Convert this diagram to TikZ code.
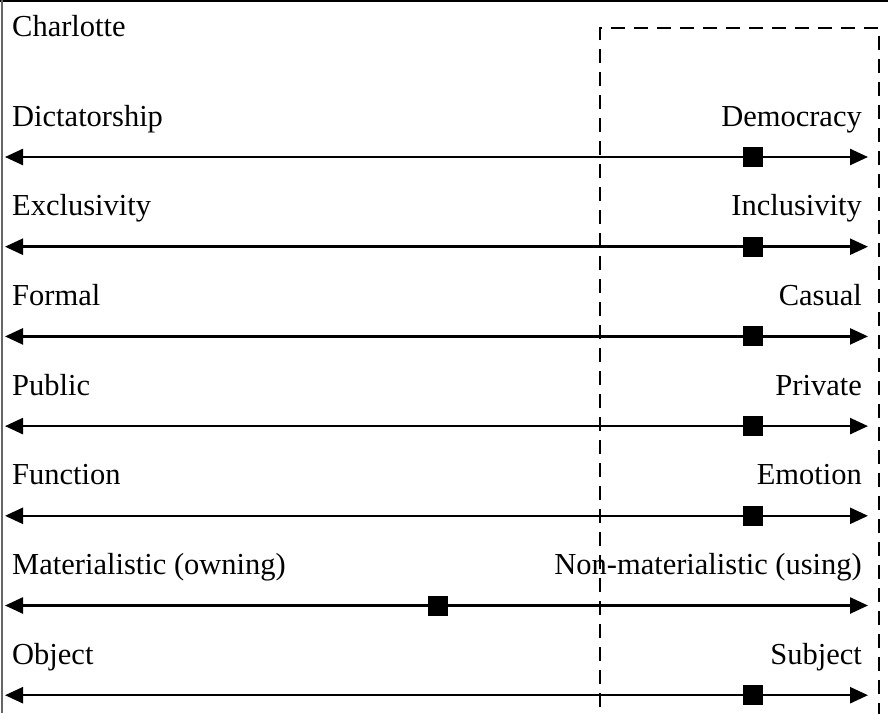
\documentclass[tikz,border=0pt]{standalone}
\usepackage{fontspec}
\setmainfont{Liberation Serif}
\usetikzlibrary{arrows.meta}
\begin{document}
\begin{tikzpicture}[x=1pt,y=-1pt,
  lbl/.style={inner sep=0pt,font=\fontsize{30.5}{36}\selectfont},
  leftlbl/.style={lbl,anchor=base west},
  rightlbl/.style={lbl,anchor=base east},
  axisline/.style={line width=2.5pt,{Triangle[length=18pt,width=16pt]}-{Triangle[length=18pt,width=16pt]}},
  marker/.style={fill=black,minimum size=20pt,inner sep=0pt,draw=none},
  frame/.style={line width=2pt},
  box/.style={line width=1.6pt,dash pattern=on 14pt off 9pt}]
\useasboundingbox (0,0) rectangle (888,713);
% outer frame (top and left edges)
\draw[frame] (0,1) -- (888,1);
\draw[frame,draw=black!60] (2,0) -- (2,713);
% dashed region
\draw[box] (600,730) -- (600,28) -- (879,28) -- (879,730);
\node[leftlbl] (title) at (12,36) {Charlotte};
\foreach \i/\l/\r/\m in {0/Dictatorship/Democracy/753,
  1/Exclusivity/Inclusivity/753,
  2/Formal/Casual/753,
  3/Public/Private/753,
  4/Function/Emotion/753,
  5/Materialistic (owning)/Non-materialistic (using)/438,
  6/Object/Subject/753}{
  \pgfmathsetmacro{\yy}{157+89.7*\i}
  \coordinate (L\i) at (5,\yy);
  \coordinate (R\i) at (868,\yy);
  \node[leftlbl] (ll\i) at (12,\yy-31) {\l};
  \node[rightlbl] (rl\i) at (862,\yy-31) {\r};
  \draw[axisline] (L\i) -- (R\i);
  \node[marker] (m\i) at (\m,\yy) {};
}
\end{tikzpicture}
\end{document}
